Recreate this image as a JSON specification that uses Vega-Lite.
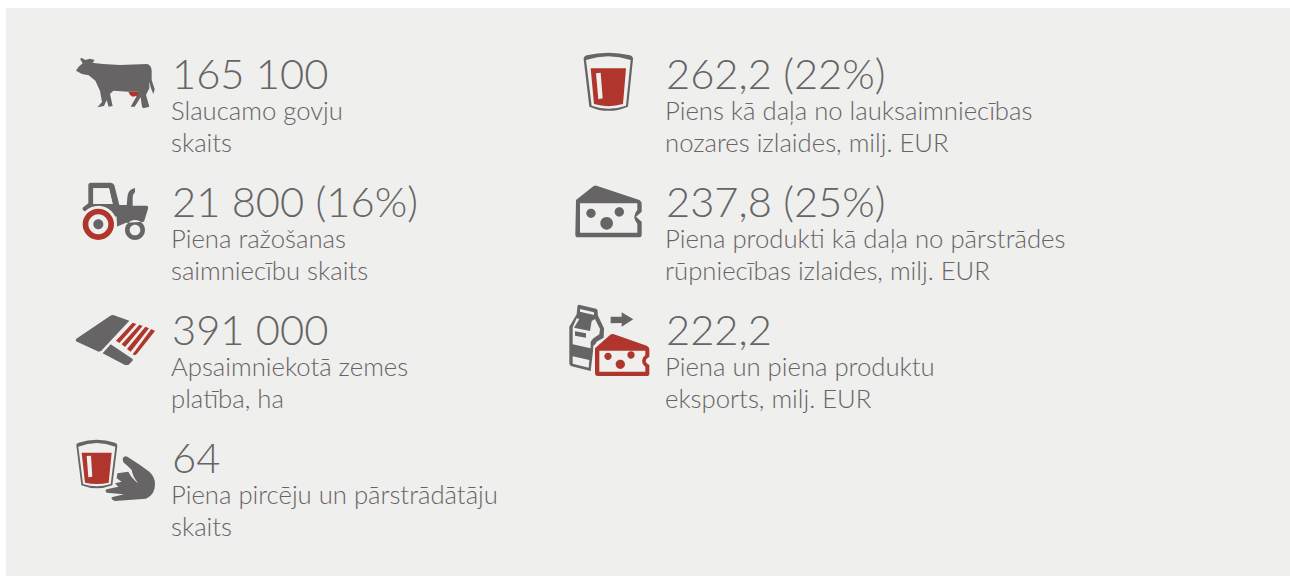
{"$schema":"https://vega.github.io/schema/vega-lite/v6.json","width":1290,"height":577,"autosize":{"type":"fit","contains":"padding"},"padding":0,"background":"#ffffff","config":{"view":{"stroke":null}},
"datasets":{
"panel":[{"x0":6,"x1":1290,"y0":8,"y1":576}],
"icons":[
{"part":"cow","x":60,"y":40},{"part":"udder","x":60,"y":40},
{"part":"tractor","x":60,"y":40},{"part":"tractorGap","x":60,"y":40},{"part":"tractorWheel","x":60,"y":40},{"part":"tractorHole","x":60,"y":40},{"part":"tractorHub","x":60,"y":40},
{"part":"field","x":60,"y":300},{"part":"fieldStripes","x":60,"y":300},
{"part":"glassA","x":60,"y":300},{"part":"glassAInner","x":60,"y":300},{"part":"glassARed","x":60,"y":300},{"part":"glassABar","x":60,"y":300},{"part":"hand","x":60,"y":300},
{"part":"glassB","x":560,"y":40},{"part":"glassBInner","x":560,"y":40},{"part":"glassBRed","x":560,"y":40},{"part":"glassBBar","x":560,"y":40},
{"part":"cheese","x":560,"y":40},{"part":"cheeseInner","x":560,"y":40},{"part":"cheeseHoles","x":560,"y":40},
{"part":"carton","x":560,"y":295},{"part":"cartonInner","x":560,"y":295},{"part":"cartonLabel","x":560,"y":295},{"part":"arrow","x":560,"y":295},
{"part":"cheeseGap","x":560,"y":295},{"part":"cheeseRed","x":560,"y":295},{"part":"cheeseRedInner","x":560,"y":295},{"part":"cheeseRedHoles","x":560,"y":295}
],
"values":[
{"x":172,"y":89,"t":"165 100"},{"x":172,"y":217,"t":"21 800 (16%)"},{"x":172,"y":345,"t":"391 000"},{"x":172,"y":473,"t":"64"},
{"x":666,"y":89,"t":"262,2 (22%)"},{"x":666,"y":217,"t":"237,8 (25%)"},{"x":666,"y":345,"t":"222,2"}
],
"labels":[
{"x":171,"y":120,"t":"Slaucamo govju"},{"x":171,"y":152,"t":"skaits"},
{"x":171,"y":248,"t":"Piena ražošanas"},{"x":171,"y":280,"t":"saimniecību skaits"},
{"x":171,"y":376,"t":"Apsaimniekotā zemes"},{"x":171,"y":408,"t":"platība, ha"},
{"x":171,"y":504,"t":"Piena pircēju un pārstrādātāju"},{"x":171,"y":536,"t":"skaits"},
{"x":665,"y":120,"t":"Piens kā daļa no lauksaimniecības"},{"x":665,"y":152,"t":"nozares izlaides, milj. EUR"},
{"x":665,"y":248,"t":"Piena produkti kā daļa no pārstrādes"},{"x":665,"y":280,"t":"rūpniecības izlaides, milj. EUR"},
{"x":665,"y":376,"t":"Piena un piena produktu"},{"x":665,"y":408,"t":"eksports, milj. EUR"}
]},
"layer":[
{"data":{"name":"panel"},"mark":{"type":"rect","fill":"#efefed"},"encoding":{"x":{"field":"x0","type":"quantitative","scale":{"domain":[0,1290],"nice":false,"zero":false},"axis":null},"x2":{"field":"x1"},"y":{"field":"y0","type":"quantitative","scale":{"domain":[577,0],"nice":false,"zero":false},"axis":null},"y2":{"field":"y1"}}},
{"data":{"name":"icons"},"mark":{"type":"point","filled":true,"opacity":1,"size":0.4444444,"strokeWidth":0},"encoding":{"x":{"field":"x","type":"quantitative","scale":{"domain":[0,1290],"nice":false,"zero":false},"axis":null},"y":{"field":"y","type":"quantitative","scale":{"domain":[577,0],"nice":false,"zero":false},"axis":null},
"color":{"field":"part","type":"nominal","legend":null,"scale":{
"domain":["cow","udder","tractor","tractorGap","tractorWheel","tractorHole","tractorHub","field","fieldStripes","glassA","glassAInner","glassARed","glassABar","hand","glassB","glassBInner","glassBRed","glassBBar","cheese","cheeseInner","cheeseHoles","carton","cartonInner","cartonLabel","arrow","cheeseGap","cheeseRed","cheeseRedInner","cheeseRedHoles"],
"range":["#666465","#b0352c","#666465","#efefed","#b0352c","#efefed","#666465","#666465","#b0352c","#666465","#efefed","#b0352c","#efefed","#666465","#666465","#efefed","#b0352c","#efefed","#666465","#efefed","#666465","#666465","#efefed","#666465","#666465","#efefed","#b0352c","#efefed","#b0352c"]}},
"shape":{"field":"part","type":"nominal","legend":null,"scale":{
"domain":["cow","udder","tractor","tractorGap","tractorWheel","tractorHole","tractorHub","field","fieldStripes","glassA","glassAInner","glassARed","glassABar","hand","glassB","glassBInner","glassBRed","glassBBar","cheese","cheeseInner","cheeseHoles","carton","cartonInner","cartonLabel","arrow","cheeseGap","cheeseRed","cheeseRedInner","cheeseRedHoles"],
"range":[
"M48 92L56 80L68 70L60 56L66 54L76 60L90 56L104 60L98 68L108 70L130 72L180 75L262 72Q274 76 275 92L275 120L284 148L280 162L273 145L268 125L268 145L258 165L268 200L250 205L246 200L242 172L224 200L212 200L228 172L236 155L205 155L160 152L150 162L158 198L146 200L140 180L132 198L112 202L126 186L120 152L106 122L86 106L66 102Z",
"M205 155L238 155L232 167L218 170L210 165Z",
"M85 436Q85 428 93 428L152 428Q160 428 163 436L178 495L200 495L203 465Q206 448 225 444L225 456Q218 462 218 475L218 497L260 497Q266 498 264 506L252 545L198 548L170 560L170 530L72 513Q66 508 68 503L85 490Z M100 445L100 492L158 492L147 445Z M225 540A30 30 0 1 0 225.01 600A30 30 0 1 0 225 540Z",
"M115 497A56 56 0 1 0 115.01 609A56 56 0 1 0 115 497Z M100 445L100 492L158 492L147 445Z M225 554A16 16 0 1 0 225.01 586A16 16 0 1 0 225 554Z",
"M115 506A47 47 0 1 0 115.01 600A47 47 0 1 0 115 506Z",
"M115 523A30 30 0 1 0 115.01 583A30 30 0 1 0 115 523Z",
"M115 538A15 15 0 1 0 115.01 568A15 15 0 1 0 115 538Z",
"M49 116L150 48Q156 44 162 46L208 62L124 152L116 155L53 126Q44 122 49 116Z M128 160L152 133L217 176Q220 180 217 183L205 195L195 195Z",
"M168 122L218 68L229 72L178 129Z M185 133L238 74L248 78L195 141Z M201 147L256 80L267 85L212 155Z M218 163L274 87L285 93L232 160Q226 169 218 163Z",
"M49 436Q48 430 56 428Q110 410 165 428Q173 431 172 438L157 556Q110 574 64 556Z",
"M55 440Q110 418 166 440L152 552Q110 566 69 552Z",
"M65 458L155 458L146 548Q110 556 75 548Z",
"M80 468L93 467L97 530L85 532Z",
"M188 477Q190 466 202 470L240 495L268 515Q285 530 285 552Q285 585 258 596L165 603Q153 600 155 592L192 583L140 578Q133 572 140 568L175 560L165 550L185 545L170 535L172 520L205 515Q215 535 235 550Q218 530 215 510Q200 495 190 487Z",
"M71 58Q70 50 80 46Q145 30 210 46Q220 50 219 58L204 200Q145 225 88 200Z",
"M78 60Q145 38 212 60L198 197Q145 215 95 197Z",
"M92 85L198 85L189 192Q145 205 102 192Z",
"M108 100L122 98L128 175L115 178Z",
"M48 480L100 439Q106 435 112 438L238 480Q246 484 245 492L245 515L228 530L245 545L245 586Q245 592 238 592L54 592Q46 592 46 584Z",
"M60 490L232 490L232 510Q214 530 232 552L232 578L60 578Z",
"M93 506A14 14 0 1 0 93.01 534A14 14 0 1 0 93 506Z M178 502A14 14 0 1 0 178.01 530A14 14 0 1 0 178 502Z M140 531A19 19 0 1 0 140.01 569A19 19 0 1 0 140 531Z",
"M52 36Q52 28 60 30L108 41Q114 43 113 50L114 62L132 100L131 128L110 140L100 160L92 228L35 214Q28 212 28 205L28 95L50 58Z",
"M38 97L50 70L58 72L42 98L90 108L95 78L105 72L120 102L118 118L100 130L92 140L92 160L38 148Z M38 184L88 195L86 218L38 206Z M60 42L102 52L102 60L60 50Z",
"M45 109L78 115L78 128L45 122Z",
"M152 65L185 65L185 52L220 73L185 95L185 84L152 85Z",
"M100 152L155 110L272 150L276 190L276 250L98 250Z",
"M105 160L150 120Q156 116 162 118L260 152Q268 155 268 163L268 185Q246 198 268 210L268 236Q268 243 260 243L114 243Q105 243 105 235Z",
"M118 167L256 167L256 180Q236 198 256 216L256 230L118 230Z",
"M144 173A11 11 0 1 0 144.01 195A11 11 0 1 0 144 173Z M213 169A11 11 0 1 0 213.01 191A11 11 0 1 0 213 169Z M181 194A14 14 0 1 0 181.01 222A14 14 0 1 0 181 194Z"
]}}}},
{"data":{"name":"values"},"mark":{"type":"text","align":"left","baseline":"alphabetic","font":"Lato","fontWeight":300,"fontSize":41.7,"fill":"#666465"},"encoding":{"x":{"field":"x","type":"quantitative","scale":{"domain":[0,1290],"nice":false,"zero":false},"axis":null},"y":{"field":"y","type":"quantitative","scale":{"domain":[577,0],"nice":false,"zero":false},"axis":null},"text":{"field":"t"}}},
{"data":{"name":"labels"},"mark":{"type":"text","align":"left","baseline":"alphabetic","font":"Lato","fontWeight":300,"fontSize":25.7,"fill":"#666465"},"encoding":{"x":{"field":"x","type":"quantitative","scale":{"domain":[0,1290],"nice":false,"zero":false},"axis":null},"y":{"field":"y","type":"quantitative","scale":{"domain":[577,0],"nice":false,"zero":false},"axis":null},"text":{"field":"t"}}}
]}
